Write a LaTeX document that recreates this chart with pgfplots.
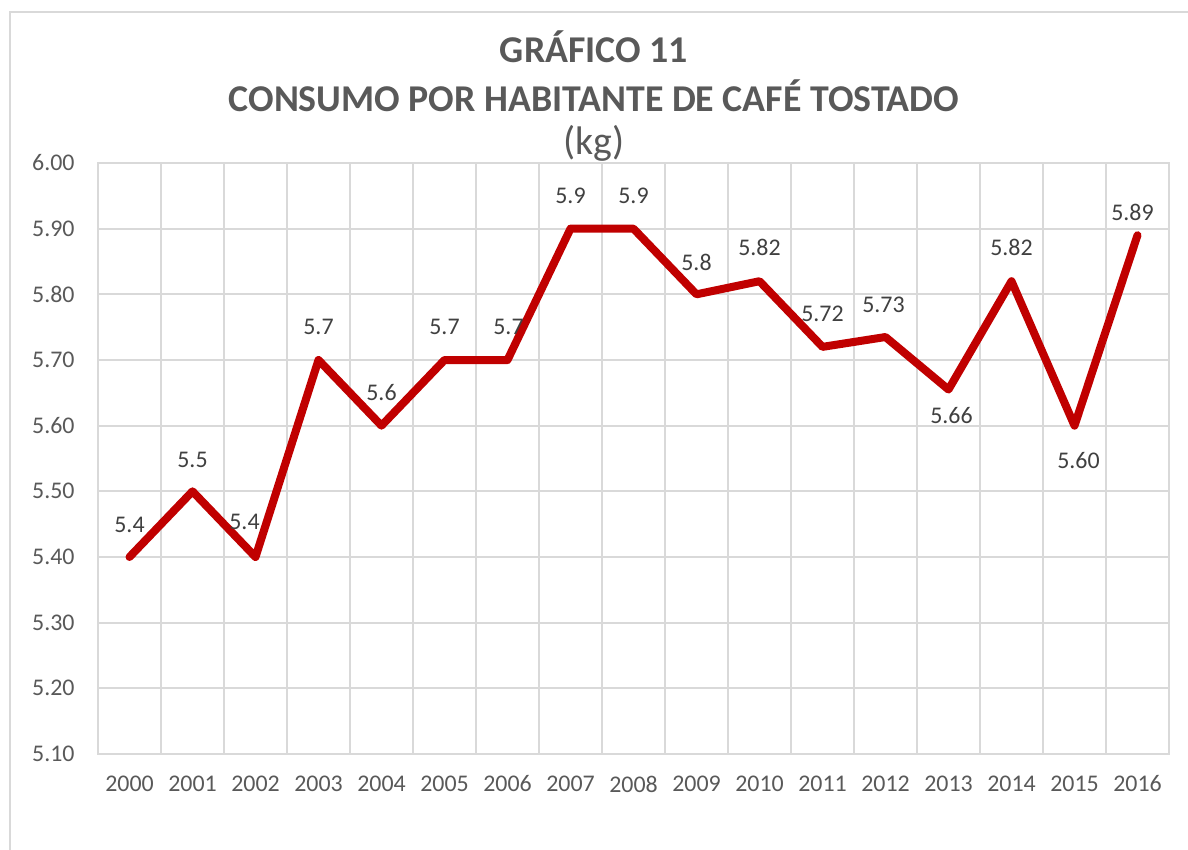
\documentclass[border=0pt]{standalone}
\usepackage{pgfplots}
\pgfplotsset{compat=1.18}
\usepackage{pgfplotstable}
\usepackage{fontspec}
\setmainfont{Carlito}
\definecolor{txt}{HTML}{595959}
\definecolor{lbl}{HTML}{404040}
\definecolor{gridc}{HTML}{D9D9D9}
\definecolor{linec}{HTML}{C00000}

% dx, dy: label offsets in bp
\pgfplotstableread{
x y label dx dy
0 5.40 5.4 0 16
1 5.50 5.5 0 15.5
2 5.40 5.4 -5.5 17.5
3 5.70 5.7 0 16.5
4 5.60 5.6 0 16.5
5 5.70 5.7 0 16.5
6 5.70 5.7 0.5 16.5
7 5.90 5.9 0 16.5
8 5.90 5.9 0 16.5
9 5.80 5.8 0 16
10 5.82 5.82 0 17
11 5.72 5.72 0 16.5
12 5.735 5.73 -1 16
13 5.655 5.66 1.5 -13
14 5.82 5.82 0 17
15 5.60 5.60 2 -17.5
16 5.89 5.89 -2.5 11.5
}\data

\begin{document}
\begin{tikzpicture}
\useasboundingbox (0,0) rectangle (594bp,425bp);
\draw[gridc, line width=1bp] (5bp,0) -- (5bp,419bp) -- (594bp,419bp);
\node[text=txt, font=\fontsize{19}{22}\selectfont\bfseries] at (297bp,401.5bp) {GRÁFICO 11};
\node[text=txt, font=\fontsize{19}{22}\selectfont\bfseries] at (297bp,377bp) {CONSUMO POR HABITANTE DE CAFÉ TOSTADO};
\node[text=txt, font=\fontsize{20}{23}\selectfont] at (297bp,353.5bp) {(kg)};
\begin{axis}[
  at={(49bp,48bp)}, anchor=south west,
  width=535.5bp, height=295.5bp, scale only axis,
  xmin=-0.5, xmax=16.5, ymin=5.1, ymax=6.0,
  xtick={0,...,16},
  xticklabels={2000,2001,2002,2003,2004,2005,2006,2007,2008,2009,2010,2011,2012,2013,2014,2015,2016},
  minor xtick={-0.5,0.5,...,16.5},
  ytick={5.1,5.2,...,6.0},
  xminorgrids=true, xmajorgrids=false, ymajorgrids=true,
  grid style={gridc, line width=1bp},
  minor grid style={gridc, line width=1bp},
  axis line style={draw=gridc, line width=1bp},
  major tick length=0pt, minor tick length=0pt,
  tick style={draw=none},
  /pgf/number format/assume math mode=true,
  yticklabel={\pgfmathprintnumber[fixed,fixed zerofill,precision=2]{\tick}},
  tick label style={text=txt, font=\fontsize{12}{14}\selectfont},
  yticklabel style={inner sep=0pt, anchor=east, xshift=-11.5bp},
  xticklabel style={inner sep=0pt, anchor=center, yshift=-15bp},
  clip=false,
]
\addplot[linec, line width=4bp, line join=round, line cap=round,
  point meta=explicit symbolic,
  visualization depends on={\thisrow{dx} \as \dx},
  visualization depends on={\thisrow{dy} \as \dy},
  nodes near coords,
  nodes near coords style={anchor=center, text=lbl, font=\fontsize{12}{14}\selectfont, xshift=\dx bp, yshift=\dy bp}]
  table[x=x, y=y, meta=label] {\data};
\end{axis}
\end{tikzpicture}
\end{document}
